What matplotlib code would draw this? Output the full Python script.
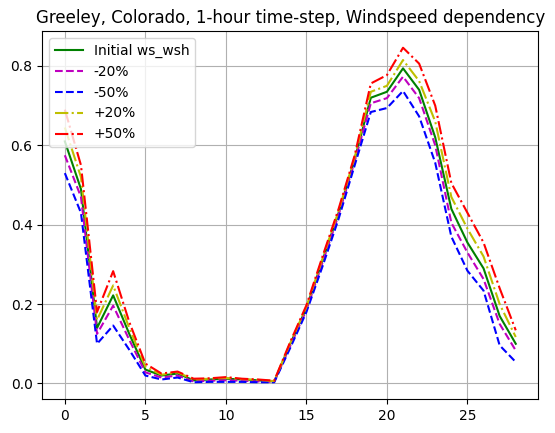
import numpy as np
import matplotlib
matplotlib.use("Agg")
import matplotlib.pyplot as plt

hours = list(range(29))

# values
ws_init = [0.61, 0.49, 0.14, 0.222, 0.125, 0.035, 0.02, 0.025, 0.008, 0.01, 0.012, 0.01, 0.008, 0.005,
           0.10, 0.19, 0.31, 0.43, 0.565, 0.72, 0.735, 0.794, 0.74, 0.62, 0.44, 0.355, 0.29, 0.17, 0.10]
ws_m20 = [0.575, 0.47, 0.125, 0.196, 0.11, 0.028, 0.015, 0.02, 0.005, 0.007, 0.008, 0.007, 0.005, 0.004,
          0.095, 0.185, 0.305, 0.425, 0.56, 0.706, 0.719, 0.773, 0.719, 0.60, 0.405, 0.33, 0.263, 0.15, 0.083]
ws_m50 = [0.53, 0.43, 0.10, 0.146, 0.085, 0.02, 0.01, 0.015, 0.003, 0.004, 0.004, 0.004, 0.003, 0.003,
          0.09, 0.18, 0.295, 0.415, 0.55, 0.684, 0.694, 0.737, 0.673, 0.556, 0.37, 0.284, 0.234, 0.096, 0.054]
ws_p20 = [0.645, 0.52, 0.16, 0.247, 0.14, 0.042, 0.022, 0.028, 0.01, 0.012, 0.014, 0.011, 0.009, 0.006,
          0.102, 0.193, 0.315, 0.435, 0.57, 0.735, 0.75, 0.815, 0.762, 0.66, 0.47, 0.39, 0.32, 0.20, 0.117]
ws_p50 = [0.69, 0.55, 0.18, 0.283, 0.155, 0.05, 0.025, 0.03, 0.012, 0.013, 0.016, 0.012, 0.01, 0.007,
          0.105, 0.197, 0.32, 0.44, 0.575, 0.756, 0.777, 0.846, 0.806, 0.70, 0.505, 0.43, 0.355, 0.24, 0.134]

fig = plt.figure(figsize=(5.55, 4.33), dpi=100)
ax = fig.add_axes([42.3/555, 1-399/433, 496/555, 368/433])

ax.plot(hours, ws_init, 'g-', label='Initial ws_wsh')
ax.plot(hours, ws_m20, 'm--', label='-20%')
ax.plot(hours, ws_m50, 'b--', label='-50%')
ax.plot(hours, ws_p20, 'y-.', label='+20%')
ax.plot(hours, ws_p50, 'r-.', label='+50%')

ax.set_title('Greeley, Colorado, 1-hour time-step, Windspeed dependency')
ax.grid(True)
ax.legend(loc='upper left')

fig.savefig('out.png', dpi=100)
